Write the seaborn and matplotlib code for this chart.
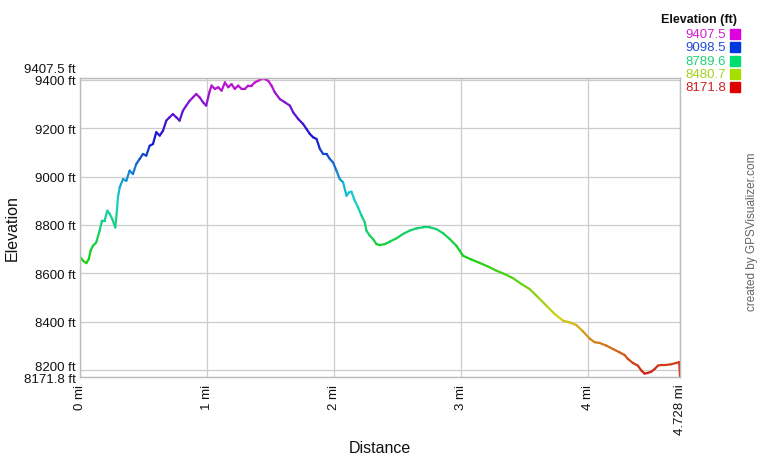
import numpy as np
import pandas as pd
import seaborn as sns
import matplotlib
matplotlib.use("Agg")
import matplotlib.pyplot as plt
from matplotlib.collections import LineCollection
from matplotlib.colors import hsv_to_rgb
from matplotlib.patches import Rectangle
from matplotlib.transforms import ScaledTranslation

# elevation profile
distance_mi = [0.0, 0.024, 0.050, 0.069, 0.084, 0.102, 0.128, 0.155, 0.173, 0.194,
               0.215, 0.234, 0.254, 0.278, 0.291, 0.299, 0.313, 0.339, 0.365, 0.391,
               0.417, 0.443, 0.470, 0.496, 0.522, 0.549, 0.575, 0.601, 0.628, 0.654,
               0.680, 0.706, 0.732, 0.758, 0.785, 0.811, 0.837, 0.864, 0.890, 0.916,
               0.943, 0.969, 0.994, 1.021, 1.037, 1.063, 1.089, 1.116, 1.142, 1.168,
               1.194, 1.220, 1.246, 1.273, 1.299, 1.325, 1.352, 1.378, 1.404, 1.443,
               1.483, 1.509, 1.535, 1.575, 1.614, 1.654, 1.680, 1.719, 1.758, 1.785,
               1.811, 1.837, 1.864, 1.890, 1.916, 1.943, 1.969, 1.994, 2.021, 2.047,
               2.073, 2.100, 2.120, 2.139, 2.165, 2.191, 2.218, 2.244, 2.257, 2.283,
               2.309, 2.336, 2.362, 2.402, 2.441, 2.494, 2.546, 2.598, 2.651, 2.703,
               2.756, 2.809, 2.861, 2.913, 2.966, 2.992, 3.018, 3.084, 3.150, 3.215,
               3.281, 3.346, 3.412, 3.478, 3.543, 3.609, 3.675, 3.740, 3.806, 3.858,
               3.911, 3.963, 4.016, 4.055, 4.094, 4.147, 4.199, 4.252, 4.291, 4.317,
               4.357, 4.396, 4.423, 4.449, 4.475, 4.502, 4.528, 4.554, 4.580, 4.620,
               4.661, 4.698, 4.722, 4.728]
elevation_ft = [8669, 8652, 8642, 8659, 8694, 8714, 8728, 8777, 8818, 8818,
                8859, 8846, 8825, 8790, 8859, 8915, 8956, 8990, 8983, 9025,
                9011, 9052, 9073, 9094, 9087, 9128, 9135, 9184, 9170, 9190,
                9232, 9246, 9259, 9246, 9232, 9273, 9294, 9314, 9328, 9342,
                9328, 9308, 9294, 9352, 9377, 9363, 9370, 9356, 9390, 9370,
                9383, 9363, 9377, 9363, 9363, 9377, 9377, 9390, 9397, 9407.5,
                9397, 9377, 9349, 9321, 9308, 9294, 9266, 9239, 9218, 9197,
                9177, 9163, 9156, 9115, 9094, 9094, 9073, 9059, 9025, 8990,
                8977, 8921, 8935, 8938, 8901, 8873, 8839, 8811, 8777, 8756,
                8742, 8721, 8717, 8721, 8731, 8745, 8763, 8777, 8786, 8790,
                8790, 8783, 8766, 8742, 8714, 8694, 8673, 8657, 8643, 8628,
                8611, 8597, 8580, 8556, 8535, 8501, 8466, 8432, 8404, 8397,
                8386, 8360, 8330, 8315, 8312, 8301, 8287, 8273, 8262, 8246,
                8229, 8218, 8198, 8185, 8188, 8193, 8204, 8218, 8221, 8221,
                8224, 8229, 8233, 8171.8]

legend_values = [9407.5, 9098.5, 8789.6, 8480.7, 8171.8]
y_ticks = [8171.8, 8200, 8400, 8600, 8800, 9000, 9200, 9400, 9407.5]
x_ticks = [0, 1, 2, 3, 4, 4.728]

sns.set_theme(style="whitegrid")
plt.rcParams['font.family'] = ['Liberation Sans', 'DejaVu Sans']

lo, hi = min(legend_values), max(legend_values)


def elev_color(v, s=1.0, b=0.87):
    h = (v - lo) / (hi - lo) * 300 / 360
    return hsv_to_rgb([h, s, b])


df = pd.DataFrame({"distance": distance_mi, "elevation": elevation_ft})

fig = plt.figure(figsize=(7.6, 4.6), dpi=100)
ax = fig.add_axes([80 / 760, 1 - 377.8 / 460, 600 / 760, (377.8 - 79.2) / 460])
ax.set_facecolor("white")

pts = df[["distance", "elevation"]].to_numpy()
segs = np.stack([pts[:-1], pts[1:]], axis=1)
seg_colors = [elev_color((a + b) / 2, s=0.9, b=0.82)
              for a, b in zip(df.elevation[:-1], df.elevation[1:])]
ax.add_collection(LineCollection(segs, colors=seg_colors, linewidths=1.6,
                                 capstyle="round", joinstyle="round"))

ax.set_xlim(0, 4.728)
ax.set_ylim(8171.8, 9407.5)
ax.set_yticks(y_ticks, labels=[f"{v:g} ft" for v in y_ticks])
ax.set_xticks(x_ticks, labels=[f"{v:g} mi" for v in x_ticks], rotation=90)
ax.tick_params(axis="both", length=0, labelsize=9.5, colors="#111111")
ax.tick_params(axis="y", pad=3)
ax.tick_params(axis="x", pad=5)
ax.grid(True, color="#cccccc", linewidth=0.9)
for sp in ax.spines.values():
    sp.set_color("#bbbbbb")
    sp.set_linewidth(1.0)

# nudge the crowded end labels apart like the original
nudge = {8171.8: -1, 8200: 4, 9400: 1, 9407.5: 11}
for tick_val, lab in zip(y_ticks, ax.get_yticklabels()):
    if tick_val in nudge:
        lab.set_transform(lab.get_transform() +
                          ScaledTranslation(0, nudge[tick_val] / 100, fig.dpi_scale_trans))

ax.set_xlabel("Distance", fontsize=11.5, color="#111111", labelpad=4)
ax.set_ylabel("Elevation", fontsize=11.5, color="#111111", labelpad=3)

# colour legend on the right
fig.text(737 / 760, 1 - 20 / 460, "Elevation (ft)", ha="right", va="center",
         fontsize=9, fontweight="bold", color="#111111")
for i, v in enumerate(legend_values):
    y = 35 + i * 13.3
    fig.text(726 / 760, 1 - y / 460, f"{v:.1f}", ha="right", va="center",
             fontsize=9.5, color=elev_color(v, s=0.85, b=0.82))
    fig.patches.append(Rectangle((730 / 760, 1 - (y + 5) / 460), 10 / 760, 10 / 460,
                                 transform=fig.transFigure, color=elev_color(v),
                                 figure=fig))

fig.text(752 / 760, 1 - 232 / 460, "created by GPSVisualizer.com", rotation=90,
         ha="center", va="center", fontsize=8.5, color="#666666")

fig.savefig("out.png", dpi=100)
